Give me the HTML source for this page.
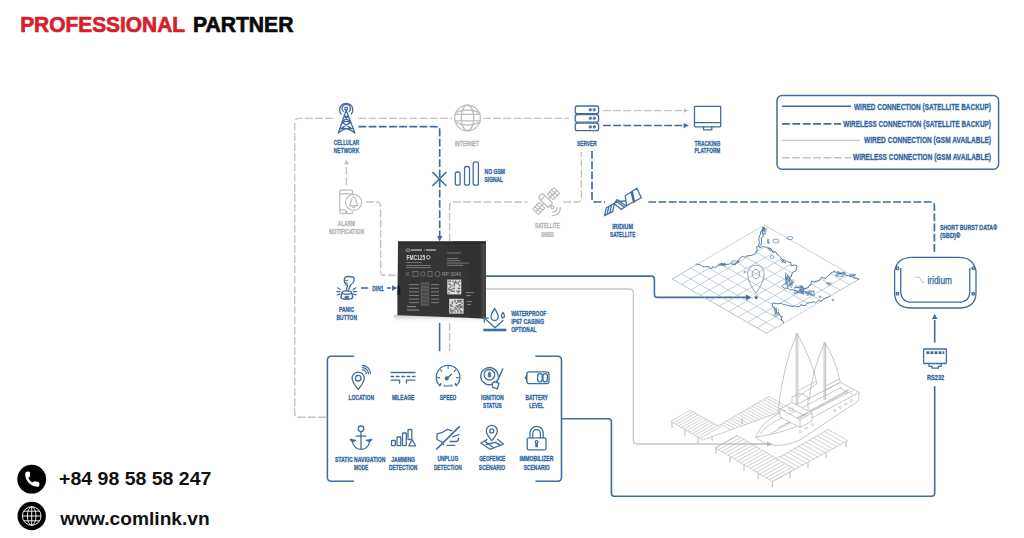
<!DOCTYPE html>
<html><head><meta charset="utf-8"><style>
html,body{margin:0;padding:0;background:#fff;}
body{width:1024px;height:538px;overflow:hidden;position:relative;}
svg{position:absolute;left:0;top:0;font-family:"Liberation Sans",sans-serif;}
</style></head><body>
<svg width="1024" height="538" viewBox="0 0 1024 538">
<text x="20.2" y="32.3" font-size="22.1" font-weight="bold" fill="#d7202c" stroke="#d7202c" stroke-width="0.7" textLength="164.8" lengthAdjust="spacingAndGlyphs">PROFESSIONAL</text>
<text x="192.9" y="32.3" font-size="22.1" font-weight="bold" fill="#0a0a0a" stroke="#0a0a0a" stroke-width="0.7" textLength="100.5" lengthAdjust="spacingAndGlyphs">PARTNER</text>
<circle cx="31.7" cy="479.2" r="14.4" fill="#000"/>
<path d="M25.2 473.2 Q25.6 471.6 27.6 471.6 L29.3 471.8 Q30.2 472 30.1 473.2 L29.9 476.2 Q29.8 477.2 28.8 477.6 L28.2 477.9 Q29.8 481.2 32.8 482.6 L33.4 481.8 Q34 481 35 481.2 L38.3 481.9 Q39.4 482.2 39.4 483.2 L39.4 485.2 Q39.3 486.8 37.6 486.8 Q30.6 486.6 26.8 480.2 Q25 477 25.2 473.2 Z" fill="#fff"/>
<circle cx="31.7" cy="516" r="14.2" fill="#000"/>
<g fill="none" stroke="#fff" stroke-width="0.9"><circle cx="31.7" cy="516" r="9.3"/><ellipse cx="31.7" cy="516" rx="4.3" ry="9.3"/><line x1="31.7" y1="506.7" x2="31.7" y2="525.3"/><line x1="22.4" y1="516" x2="41" y2="516"/><path d="M23.6 511.2 H39.8 M23.6 520.8 H39.8"/></g>
<text x="59.1" y="484.9" font-size="18" font-weight="bold" fill="#111" textLength="152.3" lengthAdjust="spacingAndGlyphs">+84 98 58 58 247</text>
<text x="60.3" y="524.7" font-size="19" font-weight="bold" fill="#111" textLength="149.4" lengthAdjust="spacingAndGlyphs">www.comlink.vn</text>
<path d="M333 118.4 H299 Q294.7 118.4 294.7 122.7 V413 Q294.7 417.3 299 417.3 H327" fill="none" stroke="#c3c3c3" stroke-width="1.4" stroke-dasharray="7.8 2.4"/>
<path d="M358.4 118.4 H452" fill="none" stroke="#c3c3c3" stroke-width="1.4" stroke-dasharray="7.8 2.4"/>
<path d="M483 118.4 H569" fill="none" stroke="#c3c3c3" stroke-width="1.4" stroke-dasharray="7.8 2.4"/>
<path d="M346.5 185 V164" fill="none" stroke="#c3c3c3" stroke-width="1.4" stroke-dasharray="7.8 2.4"/>
<path d="M344 164.2 L346.5 159.8 L349 164.2 Z" fill="#bcbcbc"/>
<path d="M366 202 H376.6 Q380.6 202 380.6 206 V271.3 Q380.6 275.3 384.6 275.3 H397" fill="none" stroke="#c3c3c3" stroke-width="1.4" stroke-dasharray="7.8 2.4"/>
<path d="M449.6 241 V206 Q449.6 202 453.6 202 H527.5" fill="none" stroke="#c3c3c3" stroke-width="1.4" stroke-dasharray="7.8 2.4"/>
<path d="M563.4 202 H577.4 Q581.4 202 581.4 198 V152" fill="none" stroke="#c3c3c3" stroke-width="1.4" stroke-dasharray="7.8 2.4"/>
<path d="M603 110.6 H684" fill="none" stroke="#c3c3c3" stroke-width="1.4" stroke-dasharray="7.8 2.4"/>
<path d="M683.8 108.4 L688.6 110.6 L683.8 112.8 Z" fill="#c3c3c3"/>
<path d="M603 125.5 H684" fill="none" stroke="#406d9d" stroke-width="1.7" stroke-dasharray="7.8 2.4"/>
<path d="M683.6 123 L688.8 125.6 L683.6 128.2 Z" fill="#406d9d"/>
<path d="M358.4 126.6 H435.7 Q439.7 126.6 439.7 130.6 V237" fill="none" stroke="#406d9d" stroke-width="1.7" stroke-dasharray="7.8 2.4"/>
<path d="M437 236 L439.7 241.5 L442.4 236 Z" fill="#406d9d"/>
<path d="M432.4 172 L446.4 186 M446.4 172 L432.4 186" stroke="#406d9d" stroke-width="1.6"/>
<path d="M592 151 V198 Q592 202 596 202 H605" fill="none" stroke="#406d9d" stroke-width="1.7" stroke-dasharray="7.8 2.4"/>
<path d="M648.3 202 H930.4 Q934.4 202 934.4 206 V252" fill="none" stroke="#406d9d" stroke-width="1.7" stroke-dasharray="7.8 2.4"/>
<path d="M485.5 276.1 H651.4 Q654.4 276.1 654.4 279.1 V294.4 Q654.4 297.4 657.4 297.4 H747" fill="none" stroke="#406d9d" stroke-width="1.6"/>
<path d="M746 294.6 L751.5 297.4 L746 300.2 Z" fill="#406d9d"/>
<circle cx="756.2" cy="297.6" r="1.5" fill="#406d9d"/>
<path d="M485.5 289 H629.3 Q633.3 289 633.3 293 V440 Q633.3 444 637.3 444 H766" fill="none" stroke="#c8c8c8" stroke-width="1.3"/>
<path d="M767 441.6 L772.3 444 L767 446.4 Z" fill="#b8b8b8"/>
<path d="M439.6 322.8 V351.3" fill="none" stroke="#406d9d" stroke-width="1.6"/>
<path d="M449.6 322.8 V351.3" fill="none" stroke="#c3c3c3" stroke-width="1.4" stroke-dasharray="7.8 2.4"/>
<path d="M361 288 H368.2" fill="none" stroke="#406d9d" stroke-width="1.6"/>
<path d="M387 288 H391" fill="none" stroke="#406d9d" stroke-width="1.6"/>
<path d="M392 285.3 L397.5 288 L392 290.7 Z" fill="#406d9d"/>
<path d="M354 356.2 H331.4 Q327.4 356.2 327.4 360.2 V477.3 Q327.4 481.3 331.4 481.3 H354" fill="none" stroke="#406d9d" stroke-width="1.6"/>
<path d="M535.3 356.2 H557.5 Q561.5 356.2 561.5 360.2 V477.3 Q561.5 481.3 557.5 481.3 H535.5" fill="none" stroke="#406d9d" stroke-width="1.6"/>
<path d="M561.5 418.8 H608.4 Q611.4 418.8 611.4 421.8 V493.2 Q611.4 496.2 614.4 496.2 H931.7 Q934.7 496.2 934.7 493.2 V386.3" fill="none" stroke="#406d9d" stroke-width="1.6"/>
<path d="M934.7 342.7 V320" fill="none" stroke="#406d9d" stroke-width="1.6"/>
<path d="M932 319 L934.7 313.8 L937.4 319 Z" fill="#406d9d"/>
<rect x="777" y="95.6" width="221.6" height="73.7" rx="5" fill="none" stroke="#406d9d" stroke-width="1.5"/>
<path d="M782 106.2 H851" fill="none" stroke="#406d9d" stroke-width="1.5"/>
<path d="M782 123.9 H841" fill="none" stroke="#406d9d" stroke-width="1.6" stroke-dasharray="7.8 2.6"/>
<path d="M782 140.3 H860" fill="none" stroke="#c8c8c8" stroke-width="1.3"/>
<path d="M782 157.8 H851" fill="none" stroke="#c3c3c3" stroke-width="1.4" stroke-dasharray="7.8 2.6"/>
<text x="854.0" y="109.5" font-size="9.16" font-weight="bold" fill="#3064a0" stroke="#3064a0" stroke-width="0.3" textLength="137.0" lengthAdjust="spacingAndGlyphs">WIRED CONNECTION (SATELLITE BACKUP)</text>
<text x="843.3" y="126.6" font-size="9.16" font-weight="bold" fill="#3064a0" stroke="#3064a0" stroke-width="0.3" textLength="147.7" lengthAdjust="spacingAndGlyphs">WIRELESS CONNECTION (SATELLITE BACKUP)</text>
<text x="864.0" y="143.3" font-size="9.16" font-weight="bold" fill="#3064a0" stroke="#3064a0" stroke-width="0.3" textLength="127.0" lengthAdjust="spacingAndGlyphs">WIRED CONNECTION (GSM AVAILABLE)</text>
<text x="853.0" y="160.1" font-size="9.16" font-weight="bold" fill="#3064a0" stroke="#3064a0" stroke-width="0.3" textLength="138.0" lengthAdjust="spacingAndGlyphs">WIRELESS CONNECTION (GSM AVAILABLE)</text>
<defs><linearGradient id="shad" x1="0" y1="0" x2="0" y2="1"><stop offset="0" stop-color="#c4c4c4"/><stop offset="1" stop-color="#fff" stop-opacity="0"/></linearGradient><linearGradient id="side" x1="0" y1="0" x2="1" y2="0"><stop offset="0" stop-color="#3a3a3a"/><stop offset="0.5" stop-color="#4a4a4a"/><stop offset="1" stop-color="#3c3c3c"/></linearGradient><filter id="soft" x="-5%" y="-5%" width="110%" height="110%"><feGaussianBlur stdDeviation="0.35"/></filter></defs>
<path d="M394 315 L486 318.2 V323 H394 Z" fill="url(#shad)"/>
<g filter="url(#soft)">
<path d="M398 241.4 H485.8 V318.4 L397.4 315.2 V295.2 L397.6 285 Z" fill="#363636"/>
<path d="M452 241.4 H480.8 V318.3 L470 318 V276 Z" fill="#313131"/>
<path d="M480.8 241.4 H485.8 V318.6 L480.8 318.4 Z" fill="url(#side)"/>
<path d="M398 241.4 H485.8 V243.2 H398 Z" fill="#2a2a2a"/>
<path d="M397.6 285.4 H400.4 V295 H397.4 Z" fill="#1e1e1e"/>
<g fill="#a8a8a8">
<rect x="406" y="249" width="4" height="2.4" rx="1" fill="none" stroke="#bdbdbd" stroke-width="0.7"/>
<rect x="411" y="249.3" width="11" height="1.5"/><rect x="424" y="249.3" width="0.6" height="1.5"/><rect x="426" y="249.3" width="10" height="1.5"/>
</g>
<text x="406.6" y="260" font-size="7.6" font-weight="bold" fill="#dcdcdc" textLength="18.5" lengthAdjust="spacingAndGlyphs">FMC125</text>
<circle cx="428.3" cy="257.3" r="1.8" fill="none" stroke="#cfcfcf" stroke-width="0.9"/>
<g fill="#7a7a7a">
<rect x="406" y="262" width="16" height="0.9"/>
<rect x="406" y="265" width="25" height="0.9"/>
<rect x="406" y="267.2" width="25" height="0.9"/>
<rect x="447" y="252.5" width="14" height="0.9"/>
<rect x="447" y="258" width="11" height="0.9"/>
<rect x="447" y="260.3" width="13" height="0.9"/>
<rect x="447" y="262.6" width="22" height="0.9"/>
<rect x="447" y="264.9" width="16" height="0.9"/>
</g>
<g fill="none" stroke="#808080" stroke-width="0.7"><path d="M406 272 L409 276 M409 272 L406 276"/><rect x="413" y="271.5" width="5" height="5"/><circle cx="423" cy="274" r="2.3"/><rect x="428" y="271.5" width="4" height="5"/><circle cx="437.5" cy="274" r="2.6"/></g>
<text x="442" y="276" font-size="5" fill="#9a9a9a">RP 3040</text>
<rect x="421" y="282.4" width="7.9" height="23.3" fill="#464646" stroke="#5e5e5e" stroke-width="0.5"/>
<g fill="#858585">
<rect x="409" y="284.2" width="10" height="0.9"/><rect x="431" y="284.2" width="8" height="0.9"/><rect x="421.8" y="283.6" width="6.3" height="2.6" fill="none" stroke="#6a6a6a" stroke-width="0.4"/>
<rect x="409" y="287.8" width="10" height="0.9"/><rect x="431" y="287.8" width="8" height="0.9"/><rect x="421.8" y="287.2" width="6.3" height="2.6" fill="none" stroke="#6a6a6a" stroke-width="0.4"/>
<rect x="409" y="291.4" width="10" height="0.9"/><rect x="431" y="291.4" width="8" height="0.9"/><rect x="421.8" y="290.8" width="6.3" height="2.6" fill="none" stroke="#6a6a6a" stroke-width="0.4"/>
<rect x="409" y="295.0" width="10" height="0.9"/><rect x="431" y="295.0" width="8" height="0.9"/><rect x="421.8" y="294.4" width="6.3" height="2.6" fill="none" stroke="#6a6a6a" stroke-width="0.4"/>
<rect x="409" y="298.6" width="10" height="0.9"/><rect x="431" y="298.6" width="8" height="0.9"/><rect x="421.8" y="298.0" width="6.3" height="2.6" fill="none" stroke="#6a6a6a" stroke-width="0.4"/>
<rect x="409" y="302.2" width="10" height="0.9"/><rect x="431" y="302.2" width="8" height="0.9"/><rect x="421.8" y="301.6" width="6.3" height="2.6" fill="none" stroke="#6a6a6a" stroke-width="0.4"/>
<rect x="407" y="306" width="9" height="1.1"/><rect x="407" y="309.5" width="12" height="1.1"/>
</g>
<rect x="447.3" y="279.6" width="14" height="14.8" fill="#dcdcdc"/>
<rect x="448.30" y="280.60" width="1.33" height="1.42" fill="#6a6a6a"/>
<rect x="448.30" y="283.44" width="1.33" height="1.42" fill="#6a6a6a"/>
<rect x="448.30" y="287.71" width="1.33" height="1.42" fill="#6a6a6a"/>
<rect x="448.30" y="289.13" width="1.33" height="1.42" fill="#6a6a6a"/>
<rect x="448.30" y="291.98" width="1.33" height="1.42" fill="#6a6a6a"/>
<rect x="449.63" y="280.60" width="1.33" height="1.42" fill="#6a6a6a"/>
<rect x="449.63" y="283.44" width="1.33" height="1.42" fill="#6a6a6a"/>
<rect x="449.63" y="286.29" width="1.33" height="1.42" fill="#6a6a6a"/>
<rect x="449.63" y="289.13" width="1.33" height="1.42" fill="#6a6a6a"/>
<rect x="450.97" y="284.87" width="1.33" height="1.42" fill="#6a6a6a"/>
<rect x="450.97" y="289.13" width="1.33" height="1.42" fill="#6a6a6a"/>
<rect x="450.97" y="290.56" width="1.33" height="1.42" fill="#6a6a6a"/>
<rect x="452.30" y="280.60" width="1.33" height="1.42" fill="#6a6a6a"/>
<rect x="452.30" y="287.71" width="1.33" height="1.42" fill="#6a6a6a"/>
<rect x="452.30" y="290.56" width="1.33" height="1.42" fill="#6a6a6a"/>
<rect x="453.63" y="282.02" width="1.33" height="1.42" fill="#6a6a6a"/>
<rect x="453.63" y="283.44" width="1.33" height="1.42" fill="#6a6a6a"/>
<rect x="453.63" y="284.87" width="1.33" height="1.42" fill="#6a6a6a"/>
<rect x="453.63" y="287.71" width="1.33" height="1.42" fill="#6a6a6a"/>
<rect x="453.63" y="290.56" width="1.33" height="1.42" fill="#6a6a6a"/>
<rect x="454.97" y="280.60" width="1.33" height="1.42" fill="#6a6a6a"/>
<rect x="454.97" y="282.02" width="1.33" height="1.42" fill="#6a6a6a"/>
<rect x="456.30" y="282.02" width="1.33" height="1.42" fill="#6a6a6a"/>
<rect x="456.30" y="290.56" width="1.33" height="1.42" fill="#6a6a6a"/>
<rect x="457.63" y="282.02" width="1.33" height="1.42" fill="#6a6a6a"/>
<rect x="457.63" y="283.44" width="1.33" height="1.42" fill="#6a6a6a"/>
<rect x="457.63" y="287.71" width="1.33" height="1.42" fill="#6a6a6a"/>
<rect x="457.63" y="290.56" width="1.33" height="1.42" fill="#6a6a6a"/>
<rect x="457.63" y="291.98" width="1.33" height="1.42" fill="#6a6a6a"/>
<rect x="458.97" y="280.60" width="1.33" height="1.42" fill="#6a6a6a"/>
<rect x="458.97" y="284.87" width="1.33" height="1.42" fill="#6a6a6a"/>
<rect x="458.97" y="287.71" width="1.33" height="1.42" fill="#6a6a6a"/>
<rect x="458.97" y="290.56" width="1.33" height="1.42" fill="#6a6a6a"/>
<rect x="449.2" y="298.8" width="14.4" height="14.8" fill="#dcdcdc"/>
<rect x="450.20" y="304.07" width="1.38" height="1.42" fill="#6a6a6a"/>
<rect x="450.20" y="305.49" width="1.38" height="1.42" fill="#6a6a6a"/>
<rect x="450.20" y="308.33" width="1.38" height="1.42" fill="#6a6a6a"/>
<rect x="450.20" y="309.76" width="1.38" height="1.42" fill="#6a6a6a"/>
<rect x="450.20" y="311.18" width="1.38" height="1.42" fill="#6a6a6a"/>
<rect x="451.58" y="301.22" width="1.38" height="1.42" fill="#6a6a6a"/>
<rect x="451.58" y="302.64" width="1.38" height="1.42" fill="#6a6a6a"/>
<rect x="451.58" y="305.49" width="1.38" height="1.42" fill="#6a6a6a"/>
<rect x="451.58" y="309.76" width="1.38" height="1.42" fill="#6a6a6a"/>
<rect x="451.58" y="311.18" width="1.38" height="1.42" fill="#6a6a6a"/>
<rect x="452.96" y="309.76" width="1.38" height="1.42" fill="#6a6a6a"/>
<rect x="454.33" y="299.80" width="1.38" height="1.42" fill="#6a6a6a"/>
<rect x="454.33" y="301.22" width="1.38" height="1.42" fill="#6a6a6a"/>
<rect x="454.33" y="306.91" width="1.38" height="1.42" fill="#6a6a6a"/>
<rect x="454.33" y="308.33" width="1.38" height="1.42" fill="#6a6a6a"/>
<rect x="454.33" y="311.18" width="1.38" height="1.42" fill="#6a6a6a"/>
<rect x="455.71" y="302.64" width="1.38" height="1.42" fill="#6a6a6a"/>
<rect x="455.71" y="305.49" width="1.38" height="1.42" fill="#6a6a6a"/>
<rect x="455.71" y="308.33" width="1.38" height="1.42" fill="#6a6a6a"/>
<rect x="457.09" y="299.80" width="1.38" height="1.42" fill="#6a6a6a"/>
<rect x="457.09" y="301.22" width="1.38" height="1.42" fill="#6a6a6a"/>
<rect x="457.09" y="305.49" width="1.38" height="1.42" fill="#6a6a6a"/>
<rect x="457.09" y="306.91" width="1.38" height="1.42" fill="#6a6a6a"/>
<rect x="457.09" y="309.76" width="1.38" height="1.42" fill="#6a6a6a"/>
<rect x="457.09" y="311.18" width="1.38" height="1.42" fill="#6a6a6a"/>
<rect x="458.47" y="299.80" width="1.38" height="1.42" fill="#6a6a6a"/>
<rect x="458.47" y="301.22" width="1.38" height="1.42" fill="#6a6a6a"/>
<rect x="458.47" y="304.07" width="1.38" height="1.42" fill="#6a6a6a"/>
<rect x="458.47" y="305.49" width="1.38" height="1.42" fill="#6a6a6a"/>
<rect x="458.47" y="308.33" width="1.38" height="1.42" fill="#6a6a6a"/>
<rect x="459.84" y="299.80" width="1.38" height="1.42" fill="#6a6a6a"/>
<rect x="459.84" y="301.22" width="1.38" height="1.42" fill="#6a6a6a"/>
<rect x="459.84" y="304.07" width="1.38" height="1.42" fill="#6a6a6a"/>
<rect x="459.84" y="305.49" width="1.38" height="1.42" fill="#6a6a6a"/>
<rect x="459.84" y="306.91" width="1.38" height="1.42" fill="#6a6a6a"/>
<rect x="459.84" y="309.76" width="1.38" height="1.42" fill="#6a6a6a"/>
<rect x="459.84" y="311.18" width="1.38" height="1.42" fill="#6a6a6a"/>
<rect x="461.22" y="299.80" width="1.38" height="1.42" fill="#6a6a6a"/>
<rect x="461.22" y="302.64" width="1.38" height="1.42" fill="#6a6a6a"/>
<rect x="461.22" y="305.49" width="1.38" height="1.42" fill="#6a6a6a"/>
<rect x="461.22" y="306.91" width="1.38" height="1.42" fill="#6a6a6a"/>
<rect x="461.22" y="311.18" width="1.38" height="1.42" fill="#6a6a6a"/>
<g fill="#777"><rect x="466" y="292" width="8" height="1.1"/><rect x="466" y="295" width="5" height="1.1"/><rect x="467" y="301" width="5" height="1.1"/><rect x="467" y="304" width="4" height="1.1"/></g>
</g>
<text x="333.8" y="145.2" font-size="7.70" font-weight="bold" fill="#3064a0" stroke="#3064a0" stroke-width="0.3" textLength="25.4" lengthAdjust="spacingAndGlyphs">CELLULAR</text>
<text x="333.8" y="153.2" font-size="7.70" font-weight="bold" fill="#3064a0" stroke="#3064a0" stroke-width="0.3" textLength="25.4" lengthAdjust="spacingAndGlyphs">NETWORK</text>
<text x="455.0" y="145.6" font-size="7.70" font-weight="bold" fill="#b4b4b4" stroke="#b4b4b4" stroke-width="0.3" textLength="24.0" lengthAdjust="spacingAndGlyphs">INTERNET</text>
<text x="577.0" y="145.6" font-size="7.70" font-weight="bold" fill="#3064a0" stroke="#3064a0" stroke-width="0.3" textLength="19.7" lengthAdjust="spacingAndGlyphs">SERVER</text>
<text x="694.4" y="145.6" font-size="7.70" font-weight="bold" fill="#3064a0" stroke="#3064a0" stroke-width="0.3" textLength="25.9" lengthAdjust="spacingAndGlyphs">TRACKING</text>
<text x="694.4" y="153.3" font-size="7.70" font-weight="bold" fill="#3064a0" stroke="#3064a0" stroke-width="0.3" textLength="25.9" lengthAdjust="spacingAndGlyphs">PLATFORM</text>
<text x="484.6" y="173.6" font-size="7.70" font-weight="bold" fill="#3064a0" stroke="#3064a0" stroke-width="0.3" textLength="20.4" lengthAdjust="spacingAndGlyphs">NO GSM</text>
<text x="484.6" y="181.7" font-size="7.70" font-weight="bold" fill="#3064a0" stroke="#3064a0" stroke-width="0.3" textLength="18.4" lengthAdjust="spacingAndGlyphs">SIGNAL</text>
<text x="338.0" y="226.1" font-size="7.70" font-weight="bold" fill="#b4b4b4" stroke="#b4b4b4" stroke-width="0.3" textLength="17.0" lengthAdjust="spacingAndGlyphs">ALARM</text>
<text x="329.0" y="233.9" font-size="7.70" font-weight="bold" fill="#b4b4b4" stroke="#b4b4b4" stroke-width="0.3" textLength="35.0" lengthAdjust="spacingAndGlyphs">NOTIFICATION</text>
<text x="535.0" y="228.2" font-size="7.70" font-weight="bold" fill="#b4b4b4" stroke="#b4b4b4" stroke-width="0.3" textLength="24.9" lengthAdjust="spacingAndGlyphs">SATELLITE</text>
<text x="540.9" y="236.5" font-size="7.70" font-weight="bold" fill="#b4b4b4" stroke="#b4b4b4" stroke-width="0.3" textLength="12.9" lengthAdjust="spacingAndGlyphs">GNSS</text>
<text x="612.3" y="228.7" font-size="7.70" font-weight="bold" fill="#3064a0" stroke="#3064a0" stroke-width="0.3" textLength="20.7" lengthAdjust="spacingAndGlyphs">IRIDIUM</text>
<text x="610.0" y="236.9" font-size="7.70" font-weight="bold" fill="#3064a0" stroke="#3064a0" stroke-width="0.3" textLength="25.3" lengthAdjust="spacingAndGlyphs">SATELLITE</text>
<text x="339.0" y="311.8" font-size="7.70" font-weight="bold" fill="#3064a0" stroke="#3064a0" stroke-width="0.3" textLength="15.0" lengthAdjust="spacingAndGlyphs">PANIC</text>
<text x="336.5" y="319.6" font-size="7.70" font-weight="bold" fill="#3064a0" stroke="#3064a0" stroke-width="0.3" textLength="20.5" lengthAdjust="spacingAndGlyphs">BUTTON</text>
<text x="372.3" y="290.6" font-size="7.70" font-weight="bold" fill="#3064a0" stroke="#3064a0" stroke-width="0.3" textLength="11.2" lengthAdjust="spacingAndGlyphs">DIN1</text>
<text x="511.2" y="316.1" font-size="7.70" font-weight="bold" fill="#3064a0" stroke="#3064a0" stroke-width="0.3" textLength="35.1" lengthAdjust="spacingAndGlyphs">WATERPROOF</text>
<text x="511.2" y="324.3" font-size="7.70" font-weight="bold" fill="#3064a0" stroke="#3064a0" stroke-width="0.3" textLength="32.8" lengthAdjust="spacingAndGlyphs">IP67 CASING</text>
<text x="511.2" y="332.3" font-size="7.70" font-weight="bold" fill="#3064a0" stroke="#3064a0" stroke-width="0.3" textLength="25.2" lengthAdjust="spacingAndGlyphs">OPTIONAL</text>
<text x="348.4" y="400.1" font-size="7.70" font-weight="bold" fill="#3064a0" stroke="#3064a0" stroke-width="0.3" textLength="25.6" lengthAdjust="spacingAndGlyphs">LOCATION</text>
<text x="391.9" y="400.1" font-size="7.70" font-weight="bold" fill="#3064a0" stroke="#3064a0" stroke-width="0.3" textLength="22.4" lengthAdjust="spacingAndGlyphs">MILEAGE</text>
<text x="439.8" y="400.3" font-size="7.70" font-weight="bold" fill="#3064a0" stroke="#3064a0" stroke-width="0.3" textLength="16.4" lengthAdjust="spacingAndGlyphs">SPEED</text>
<text x="481.0" y="400.3" font-size="7.70" font-weight="bold" fill="#3064a0" stroke="#3064a0" stroke-width="0.3" textLength="22.6" lengthAdjust="spacingAndGlyphs">IGNITION</text>
<text x="483.0" y="408.1" font-size="7.70" font-weight="bold" fill="#3064a0" stroke="#3064a0" stroke-width="0.3" textLength="18.8" lengthAdjust="spacingAndGlyphs">STATUS</text>
<text x="525.5" y="400.3" font-size="7.70" font-weight="bold" fill="#3064a0" stroke="#3064a0" stroke-width="0.3" textLength="22.3" lengthAdjust="spacingAndGlyphs">BATTERY</text>
<text x="529.3" y="408.1" font-size="7.70" font-weight="bold" fill="#3064a0" stroke="#3064a0" stroke-width="0.3" textLength="14.4" lengthAdjust="spacingAndGlyphs">LEVEL</text>
<text x="334.9" y="461.7" font-size="7.70" font-weight="bold" fill="#3064a0" stroke="#3064a0" stroke-width="0.3" textLength="50.5" lengthAdjust="spacingAndGlyphs">STATIC NAVIGATION</text>
<text x="353.9" y="469.5" font-size="7.70" font-weight="bold" fill="#3064a0" stroke="#3064a0" stroke-width="0.3" textLength="14.4" lengthAdjust="spacingAndGlyphs">MODE</text>
<text x="391.3" y="461.7" font-size="7.70" font-weight="bold" fill="#3064a0" stroke="#3064a0" stroke-width="0.3" textLength="23.7" lengthAdjust="spacingAndGlyphs">JAMMING</text>
<text x="389.0" y="469.5" font-size="7.70" font-weight="bold" fill="#3064a0" stroke="#3064a0" stroke-width="0.3" textLength="28.3" lengthAdjust="spacingAndGlyphs">DETECTION</text>
<text x="437.4" y="461.2" font-size="7.70" font-weight="bold" fill="#3064a0" stroke="#3064a0" stroke-width="0.3" textLength="20.9" lengthAdjust="spacingAndGlyphs">UNPLUG</text>
<text x="433.9" y="470.0" font-size="7.70" font-weight="bold" fill="#3064a0" stroke="#3064a0" stroke-width="0.3" textLength="27.7" lengthAdjust="spacingAndGlyphs">DETECTION</text>
<text x="479.2" y="461.2" font-size="7.70" font-weight="bold" fill="#3064a0" stroke="#3064a0" stroke-width="0.3" textLength="26.0" lengthAdjust="spacingAndGlyphs">GEOFENCE</text>
<text x="478.8" y="470.0" font-size="7.70" font-weight="bold" fill="#3064a0" stroke="#3064a0" stroke-width="0.3" textLength="26.4" lengthAdjust="spacingAndGlyphs">SCENARIO</text>
<text x="519.5" y="461.2" font-size="7.70" font-weight="bold" fill="#3064a0" stroke="#3064a0" stroke-width="0.3" textLength="33.9" lengthAdjust="spacingAndGlyphs">IMMOBILIZER</text>
<text x="523.8" y="470.0" font-size="7.70" font-weight="bold" fill="#3064a0" stroke="#3064a0" stroke-width="0.3" textLength="25.8" lengthAdjust="spacingAndGlyphs">SCENARIO</text>
<text x="940.0" y="230.1" font-size="7.70" font-weight="bold" fill="#3064a0" stroke="#3064a0" stroke-width="0.3" textLength="57.0" lengthAdjust="spacingAndGlyphs">SHORT BURST DATA®</text>
<text x="940.0" y="237.9" font-size="7.70" font-weight="bold" fill="#3064a0" stroke="#3064a0" stroke-width="0.3" textLength="20.3" lengthAdjust="spacingAndGlyphs">(SBD)®</text>
<text x="927.0" y="379.6" font-size="7.70" font-weight="bold" fill="#3064a0" stroke="#3064a0" stroke-width="0.3" textLength="17.2" lengthAdjust="spacingAndGlyphs">RS232</text>
<g fill="none" stroke="#406d9d" stroke-width="1.3" stroke-linejoin="round" stroke-linecap="round"><circle cx="346.2" cy="108.6" r="1.4"/><path d="M343.3 111.6 A4.2 4.2 0 1 1 349.1 111.6"/><path d="M341 114 A6.6 6.6 0 1 1 351.4 114"/><path d="M346.2 110.2 L338.3 133 M346.2 110.2 L354.9 133 M344.2 116.3 L350.6 122.4 L340.6 128.8 Q346.5 127 354.4 132.6 M348.4 116.3 L342 122.4 L352 128.8 Q346 127 338.7 132.6 M344.4 116.5 H348.3 M342.8 122.2 Q346.3 120.6 349.8 122.2"/></g>
<g fill="none" stroke="#bdbdbd" stroke-width="1.25" stroke-linejoin="round" stroke-linecap="round"><circle cx="467.5" cy="118" r="12.9"/><ellipse cx="467.5" cy="118" rx="6.3" ry="12.9"/><path d="M455.1 114.3 H479.9 M455 120.8 H480 M456.2 112.4 Q467.5 107.6 478.8 112.4 M456.2 122.6 Q467.5 127.8 478.8 122.6"/></g>
<rect x="575.2" y="106.0" width="23.4" height="7.6" rx="2.2" fill="none" stroke="#406d9d" stroke-width="1.3" stroke-linejoin="round" stroke-linecap="round"/>
<circle cx="590.3" cy="109.8" r="1.3" fill="#5d84ad" stroke="#406d9d" stroke-width="0.7"/><circle cx="594.3" cy="109.8" r="1.3" fill="#5d84ad" stroke="#406d9d" stroke-width="0.7"/>
<rect x="575.2" y="114.5" width="23.4" height="7.6" rx="2.2" fill="none" stroke="#406d9d" stroke-width="1.3" stroke-linejoin="round" stroke-linecap="round"/>
<circle cx="590.3" cy="118.3" r="1.3" fill="#5d84ad" stroke="#406d9d" stroke-width="0.7"/><circle cx="594.3" cy="118.3" r="1.3" fill="#5d84ad" stroke="#406d9d" stroke-width="0.7"/>
<rect x="575.2" y="123.1" width="23.4" height="7.6" rx="2.2" fill="none" stroke="#406d9d" stroke-width="1.3" stroke-linejoin="round" stroke-linecap="round"/>
<circle cx="590.3" cy="126.9" r="1.3" fill="#5d84ad" stroke="#406d9d" stroke-width="0.7"/><circle cx="594.3" cy="126.9" r="1.3" fill="#5d84ad" stroke="#406d9d" stroke-width="0.7"/>
<g fill="none" stroke="#406d9d" stroke-width="1.3" stroke-linejoin="round" stroke-linecap="round"><rect x="694.5" y="106.3" width="26.2" height="20.6" rx="0.8"/><path d="M694.5 122.6 H720.7"/><path d="M703.5 127 V129.8 H711.8 V127"/></g>
<g fill="none" stroke="#406d9d" stroke-width="1.3" stroke-linejoin="round" stroke-linecap="round"><rect x="455.3" y="172" width="4.8" height="13.2" rx="2"/><rect x="464.5" y="166.5" width="5" height="18.7" rx="2"/><rect x="473.2" y="161.8" width="5.2" height="23.4" rx="2"/></g>
<g fill="none" stroke="#bdbdbd" stroke-width="1.2" stroke-linejoin="round" stroke-linecap="round"><path d="M339.8 191.8 Q339.8 190.2 341.4 190.2 H351 Q352.6 190.2 352.6 191.8 V194 M339.8 191.8 V212 Q339.8 213.6 341.4 213.6 H351 Q352.6 213.6 352.6 212"/><path d="M339.8 193.8 H352.6 M339.8 209.8 H345.6"/><circle cx="346.2" cy="211.7" r="0.9"/><circle cx="353.6" cy="202.4" r="8" fill="#fff"/><path d="M353.6 197 Q352.3 197 351.6 199.5 L349.6 205.6 H357.6 L355.6 199.5 Q354.9 197 353.6 197 Z M352.2 206.8 Q353.6 208.4 355 206.8 M353.6 196 V197"/></g>
<g transform="translate(546.1,201.1) rotate(-45)" fill="none" stroke="#bdbdbd" stroke-width="1.2" stroke-linejoin="round" stroke-linecap="round"><rect x="-15" y="-4" width="9.2" height="8" rx="0.6"/><path d="M-11.9 -4 V4 M-8.9 -4 V4 M-15 0 H-5.8"/><rect x="5.8" y="-4" width="9.2" height="8" rx="0.6"/><path d="M8.9 -4 V4 M11.9 -4 V4 M5.8 0 H15"/><path d="M-3.1 5.9 V-5.4 Q-3.1 -8.4 0 -8.4 Q3.1 -8.4 3.1 -5.4 V5.9 Z M-3.1 -4.5 H3.1 M-5.8 0 H-3.1 M3.1 0 H5.8 M0 5.9 V7.3"/><circle cx="0" cy="8.8" r="1.5"/><path d="M-3.2 12.2 A4.2 4.2 0 0 0 3.2 12.2 M-5.6 14.4 A7 7 0 0 0 5.6 14.4"/></g>
<g fill="none" stroke="#406d9d" stroke-width="1.3" stroke-linejoin="round" stroke-linecap="round"><path d="M604.5 215.7 L606.4 207.8 L614.4 203.2 L612.7 211.7 Z M608.9 206.4 L607.1 214.4 M611.5 205 L609.8 213"/><path d="M614.3 203.6 L617 199.6 L626.2 206 L621.3 209.6 Z M616 201.2 L624.5 207.3"/><path d="M618.5 201.5 L625.3 200.8"/><path d="M625.2 195.7 L636.9 188.2 L641.3 197.8 L626.6 205.7 Z M631.2 192 L633.5 202.4 M632.3 191.3 L634.6 201.8"/></g>
<g fill="none" stroke="#406d9d" stroke-width="1.3" stroke-linejoin="round" stroke-linecap="round"><path d="M337.6 287.8 L340.2 289.6 M336.8 291.6 H340 M337.2 294.8 L340 294.2 M355.8 287.8 L353.2 289.6 M356.6 291.6 H353.4 M356.2 294.8 L353.4 294.2" stroke-width="1.2"/><path d="M342.2 292.6 L341 296.8 Q341 299.4 346.9 299.4 Q352.8 299.4 352.8 296.8 L351.6 292.6" stroke-width="1.4"/><ellipse cx="346.9" cy="292.6" rx="4.7" ry="1.7" stroke-width="1.3"/><path d="M345.2 296.2 H348.6 V298.6 H345.2 Z" fill="#406d9d" stroke-width="0.6"/><path d="M346.3 290.2 L347.6 285.4 Q345 284.8 344.5 282.2 L344.3 279.6 Q344.5 276.6 348 276.4 L352.4 277 Q354.6 277.6 354.2 280.2 Q353.6 283.2 350.4 285.2 L348.4 290.2" stroke-width="1.3"/><path d="M344.8 280 L347.8 280.8 M345 282.6 L347.6 283.2" stroke-width="1"/></g>
<g fill="none" stroke="#406d9d" stroke-width="1.3" stroke-linejoin="round" stroke-linecap="round"><path d="M483.2 330 H506.4" stroke-width="2.6" stroke-linecap="butt"/><path d="M484 317.8 L495 327.8 L503 320.4"/><path d="M484 317.8 L488.2 318.2 M484 317.8 L484.4 322"/><path d="M494.6 308.4 Q490.8 314.4 491 317 Q491.4 320.5 494.6 320.5 Q497.8 320.5 498.2 317 Q498.4 314.4 494.6 308.4 Z"/><path d="M503 312.4 Q501.3 315 501.5 316.2 Q501.7 317.8 503 317.8 Q504.3 317.8 504.5 316.2 Q504.7 315 503 312.4 Z"/></g>
<g fill="none" stroke="#406d9d" stroke-width="1.3" stroke-linejoin="round" stroke-linecap="round"><path d="M358.2 389.3 Q352.1 382 352.1 378.2 A6.1 6.1 0 0 1 364.3 378.2 Q364.3 382 358.2 389.3 Z"/><circle cx="358.2" cy="378.2" r="2.8"/><path d="M362.4 369.8 A3.8 3.8 0 0 1 366.2 373.6 M362.4 367.6 A6 6 0 0 1 368.4 373.6 M362.4 365.5 A8.1 8.1 0 0 1 370.5 373.6"/></g>
<g fill="none" stroke="#406d9d" stroke-width="1.3" stroke-linejoin="round" stroke-linecap="round"><path d="M391.2 372.5 H415 M391.2 376.5 H393.6 M396.4 376.5 H399 M401.8 376.5 H404.4 M407.2 376.5 H409.8 M412.6 376.5 H415 M391.2 380.1 H399.6 V383 M415 380.1 H406.4 V383"/></g>
<g fill="none" stroke="#406d9d" stroke-width="1.3" stroke-linejoin="round" stroke-linecap="round"><path d="M439.8 385.6 A11.8 11.8 0 1 1 456.4 385.6"/><path d="M439.8 385.6 L440.8 383.8 M456.4 385.6 L455.4 383.8" stroke-width="1.6"/><path d="M448.1 366.6 V368.6 M440.5 369.9 L441.9 371.3 M455.7 369.9 L454.3 371.3 M437.6 377.6 H439.6 M458.6 377.6 H456.6" stroke-width="1.1"/><path d="M446.8 378.2 L451.6 374.2" stroke-width="1.4"/><circle cx="446.8" cy="378.4" r="1.4" fill="#406d9d"/></g><text x="443.4" y="387.3" font-size="3.6" font-weight="bold" fill="#406d9d" textLength="9.4" lengthAdjust="spacingAndGlyphs">km/h</text>
<g fill="none" stroke="#406d9d" stroke-width="1.3" stroke-linejoin="round" stroke-linecap="round"><path d="M496.5 381 A8.6 8.6 0 1 1 498 376"/><circle cx="489.4" cy="374.8" r="5.3"/><rect x="488.2" y="372.3" width="2.4" height="5" rx="1.1" fill="#406d9d" stroke-width="0.6"/><path d="M502.8 369 L496.6 382.4" stroke-width="1.5"/><path d="M494.6 381.6 L499 383.4 L497.4 388.8 L492.8 387.4 L492 383.4 Z" fill="#fff"/></g>
<g fill="none" stroke="#406d9d" stroke-width="1.3" stroke-linejoin="round" stroke-linecap="round"><rect x="526.8" y="371.8" width="22.2" height="11.8" rx="2.4"/><path d="M526.8 375.6 L525.3 377.7 L526.8 379.8"/><rect x="537.6" y="373.6" width="4.6" height="8.2" rx="2.3"/><rect x="543" y="373.6" width="4.4" height="8.2" rx="2.2"/></g>
<g fill="none" stroke="#406d9d" stroke-width="1.3" stroke-linejoin="round" stroke-linecap="round"><circle cx="361" cy="428.8" r="2.8"/><path d="M361 431.6 V449.4 M356.2 436.2 H365.8 M352.2 441.6 Q354.5 449.4 361 449.4 Q367.5 449.4 369.8 441.6 M350.3 439.5 L352.2 441.6 L355.6 440.3 Z M371.7 439.5 L369.8 441.6 L366.4 440.3 Z"/></g>
<g fill="none" stroke="#406d9d" stroke-width="1.3" stroke-linejoin="round" stroke-linecap="round"><rect x="391.5" y="440.5" width="3.8" height="5.2" rx="0.6"/><rect x="397" y="437" width="3.8" height="8.7" rx="0.6"/><rect x="402.5" y="433" width="3.8" height="12.7" rx="0.6"/><rect x="408" y="429.5" width="3.8" height="10" rx="0.6"/><path d="M408.8 445.8 L412.2 439.8 L415.6 445.8 Z"/></g>
<g fill="none" stroke="#406d9d" stroke-width="1.3" stroke-linejoin="round" stroke-linecap="round"><path d="M436.8 449 L459.3 426.6" stroke-width="1.7"/><path d="M437 439.5 V433.8 L442.5 432.3 L447.5 429.3 L452 430.8 M437 439.5 L441.2 441.5 L443.5 444.5 M452.6 436.8 L459 434.5 M450 441.5 H455.6 Q458.5 441.5 458.5 438.5 M447 445.3 H455"/></g>
<g fill="none" stroke="#406d9d" stroke-width="1.3" stroke-linejoin="round" stroke-linecap="round"><path d="M491.8 440.6 Q486.3 434.2 486.3 430.9 A5.5 5.5 0 0 1 497.3 430.9 Q497.3 434.2 491.8 440.6 Z"/><circle cx="491.8" cy="430.9" r="2"/><path d="M487 439.6 L480.8 443 L490 449.3 L503.5 444 L497.5 439.3 M485 441.6 L493.2 447.6 M486.5 444.5 L495 442.4 L500.6 445.2"/></g>
<g fill="none" stroke="#406d9d" stroke-width="1.3" stroke-linejoin="round" stroke-linecap="round"><path d="M530 437.8 V433 A6.6 6.6 0 0 1 543.2 433 V437.8 M532.8 437.8 V433.4 A3.8 3.8 0 0 1 540.4 433.4 V437.8"/><rect x="527.2" y="437.8" width="18.8" height="12" rx="1.6"/><path d="M535.2 442 Q535.2 440.6 536.6 440.6 Q538 440.6 538 442 L537.3 443.2 V446.5 H535.9 V443.2 Z"/></g>
<g fill="none" stroke="#406d9d" stroke-width="1.3"><path d="M894.6 271 Q897 257.3 912 257.3 H958.5 Q973.5 257.3 976 271 V292.5 Q976 308 958.5 308 H912 Q894.6 308 894.6 292.5 Z"/><path d="M900.7 268 V291 Q900.7 302.2 912 302.2 H958.5 Q969.8 302.2 969.8 291 V268"/><circle cx="897.5" cy="268.2" r="1.3"/><circle cx="897.5" cy="293.8" r="1.3"/><circle cx="973.2" cy="268.2" r="1.3"/><circle cx="973.2" cy="293.8" r="1.3"/></g>
<text x="927.4" y="284.2" font-size="10" fill="#3064a0" stroke="#3064a0" stroke-width="0.25" textLength="24.6" lengthAdjust="spacingAndGlyphs">iridium</text>
<path d="M915.5 277.2 Q918.5 276.8 920 278 Q921.8 279.8 921.4 281.2 Q922.8 283.2 924.6 282" fill="none" stroke="#9fb3c8" stroke-width="0.9"/>
<g fill="none" stroke="#406d9d" stroke-width="1.3" stroke-linejoin="round" stroke-linecap="round"><rect x="923.6" y="349" width="22.8" height="14.5" rx="0.8"/><path d="M929 363.5 V366.3 H932 V368.2 H938.4 V366.3 H941.2 V363.5"/></g>
<g fill="#406d9d"><rect x="926.3" y="351.3" width="3" height="2.8"/><rect x="930.4" y="351.3" width="3" height="2.8"/><rect x="934.5" y="351.3" width="3" height="2.8"/><rect x="938.6" y="351.3" width="3" height="2.8"/><rect x="942.7" y="351.3" width="1.6" height="2.8"/></g>
<clipPath id="ocean"><path d="M672.0 279.0 L696.0 265.0 L712.0 268.0 L722.0 264.0 L735.0 265.0 L740.0 258.0 L755.0 254.0 L758.0 245.0 L762.0 232.0 L763.5 227.0 L763.0 233.0 L759.0 247.0 L772.0 249.0 L783.0 260.0 L797.0 267.0 L790.0 278.0 L783.0 287.0 L795.0 291.0 L808.0 287.0 L812.0 282.0 L824.0 278.0 L835.0 271.0 L844.0 273.5 L855.0 278.0 L858.8 279.3 L830.0 296.0 L815.0 302.0 L803.0 305.0 L790.0 306.0 L772.0 303.0 L781.0 316.0 L783.5 323.3 L766.4 333.3 Z"/></clipPath>
<path clip-path="url(#ocean)" d="M672.0 279.0 L766.4 333.3 M672.0 279.0 L764.4 225.0 M681.2 273.6 L775.6 327.9 M681.4 284.4 L773.8 230.4 M690.5 268.2 L784.9 322.5 M690.9 289.9 L783.3 235.9 M699.7 262.8 L794.1 317.1 M700.3 295.3 L792.7 241.3 M709.0 257.4 L803.4 311.7 M709.8 300.7 L802.2 246.7 M718.2 252.0 L812.6 306.3 M719.2 306.1 L811.6 252.2 M727.4 246.6 L821.8 300.9 M728.6 311.6 L821.0 257.6 M736.7 241.2 L831.1 295.5 M738.1 317.0 L830.5 263.0 M745.9 235.8 L840.3 290.1 M747.5 322.4 L839.9 268.4 M755.2 230.4 L849.6 284.7 M757.0 327.9 L849.4 273.9 M764.4 225.0 L858.8 279.3 M766.4 333.3 L858.8 279.3" fill="none" stroke="#9fb0c4" stroke-width="0.6"/>
<path d="M672 279 L764.4 225 L858.8 279.3 L766.4 333.3 Z" fill="none" stroke="#a3b3c6" stroke-width="0.6"/>
<path d="M695.5 264.1 L699.1 264.4 L701.4 265.7 L702.9 266.5 L705.5 266.8 L708.2 266.4 L711.8 268.8 L712.7 266.6 L715.7 267.8 L717.2 265.7 L719.9 264.2 L721.3 264.1 L721.1 263.0 L723.7 265.0 L725.5 264.5 L728.9 264.2 L730.8 263.5 L731.7 264.1 L735.5 264.8 L735.4 264.1 L736.5 262.1 L738.3 262.0 L737.7 260.5 L739.2 260.1 L740.6 257.4 L743.7 256.3 L744.8 257.3 L746.6 256.0 L748.8 255.8 L753.2 254.9 L756.0 253.5 L756.0 252.7 L756.2 250.9 L757.4 250.7 L756.9 248.4 L756.4 247.0 L758.4 246.3 L759.5 242.3 L759.0 241.1 L758.8 238.4 L759.8 235.3 L760.2 234.9 L761.0 231.3 L762.0 232.1 L761.4 230.2 L762.9 230.5 L763.8 229.6 L762.7 227.6 L763.1 228.0 L764.6 227.1 L762.5 228.3 L762.6 230.0 L763.4 230.4 L761.8 231.8 L762.7 233.2 L763.5 235.8 L761.7 238.0 L761.5 238.8 L761.4 243.1 L760.6 245.4 L758.7 246.7 L760.1 247.7 L762.2 246.5 L764.7 247.1 L767.3 247.2 L768.5 247.8 L771.0 248.6 L772.6 251.8 L776.0 251.8 L776.9 254.1 L779.0 255.4 L782.1 259.4 L782.9 260.0 L784.3 260.1 L787.3 261.7 L790.9 262.6 L791.1 265.8 L794.7 264.9 L797.1 265.8 L795.9 270.1 L795.6 271.2 L792.9 272.2 L791.5 275.0 L791.3 276.9 L789.6 277.3 L789.6 280.8 L788.6 281.8 L787.3 283.1 L784.6 284.0 L783.8 284.3 L781.8 286.4 L784.4 288.2 L788.2 288.2 L790.1 290.3 L792.2 289.3 L792.3 289.6 L794.2 290.2 L797.5 291.4 L800.2 289.6 L801.9 289.8 L802.6 288.8 L806.9 288.4 L808.7 286.9 L807.8 286.9 L808.9 286.1 L811.2 284.2 L810.4 284.8 L811.9 282.0 L811.0 281.1 L815.1 282.1 L815.1 281.5 L819.2 280.4 L819.6 279.5 L821.0 277.4 L825.2 278.4 L825.9 278.0 L827.5 276.6 L830.3 273.7 L830.7 272.8 L832.5 272.4 L834.4 270.8 L835.5 272.5 L837.6 271.7 L839.7 273.3 L840.8 273.8 L842.5 273.2 L844.1 272.2 L845.7 273.4 L846.4 275.8 L848.6 275.7 L851.9 276.6 L852.7 277.3 L855.1 278.7 L854.6 278.4 L855.6 277.9 L857.6 278.7 L857.7 279.5 L859.2 278.9 L858.8 279.3" fill="none" stroke="#406d9d" stroke-width="0.85"/>
<path d="M830.3 296.0 L827.5 297.5 L824.9 298.1 L822.4 300.1 L820.5 301.0 L818.6 300.4 L815.2 303.2 L813.9 301.6 L810.0 302.8 L807.9 302.8 L805.9 304.4 L805.7 305.5 L802.1 305.6 L801.3 304.2 L799.7 306.5 L795.8 306.7 L794.1 305.6 L793.4 306.7 L789.1 305.8 L787.0 305.1 L783.2 304.5 L781.6 303.3 L778.1 303.8 L773.7 303.1 L772.3 303.0 L772.4 306.4 L775.7 308.6 L775.5 308.9 L776.8 312.4 L778.9 312.9 L780.8 317.1 L782.2 316.6 L780.9 319.5 L782.4 320.2 L781.6 319.7 L783.6 321.9 L783.5 323.3" fill="none" stroke="#406d9d" stroke-width="0.85"/>
<path d="M762.4 234.5 L765.8 233.4 L762.5 233.8 L762.4 233.9 L764.7 229.7 L765.3 234.4 L763.6 228.0 L765.2 228.9 L762.7 228.3 L762.3 228.6 L763.9 229.4 L766.6 229.3 L765.0 228.4 L764.1 227.1 L763.5 227.1 L766.4 231.4 L763.1 230.8 L767.6 227.9" fill="none" stroke="#406d9d" stroke-width="0.55" opacity="0.75"/>
<path d="M793.2 278.9 L790.0 285.4 L788.9 280.1 L791.9 287.7 L788.4 285.3 L792.1 282.2 L789.0 277.6 L785.5 274.1 L785.7 283.9 L787.6 274.6 L785.8 285.5 L793.7 282.7 L787.8 275.9 L787.9 279.4 L786.6 279.1 L787.6 287.4 L794.7 280.8 L787.4 287.5 L788.1 277.7 L785.0 278.1 L789.7 280.0 L787.0 280.1 L785.0 276.2 L785.9 278.4 L785.4 272.4 L788.0 275.7 L790.9 280.5 L792.5 282.5 L792.2 286.1 L788.9 277.2" fill="none" stroke="#406d9d" stroke-width="0.55" opacity="0.75"/>
<path d="M806.8 286.5 L803.1 291.4 L793.6 293.4 L805.5 291.3 L803.3 293.1 L795.0 290.2 L800.1 293.3 L804.3 293.3 L801.2 293.9 L802.6 291.9 L796.2 285.3 L794.9 288.6 L794.5 293.4 L800.8 291.3 L801.8 291.8 L799.9 285.0 L804.2 292.5 L800.0 290.4 L802.2 285.7 L803.3 287.5 L794.0 287.7 L803.2 287.1 L803.4 294.8 L799.9 288.8 L799.7 291.8 L803.7 291.2 L802.0 285.8 L795.1 287.5 L803.4 288.0 L800.9 285.1" fill="none" stroke="#406d9d" stroke-width="0.55" opacity="0.75"/>
<path d="M805.6 291.6 L811.7 294.2 L811.8 291.7 L810.2 292.8 L809.7 290.7 L813.9 291.2 L814.8 295.6 L805.2 292.8 L813.2 295.8 L809.5 291.6 L807.1 295.7 L807.1 293.5 L806.4 293.1 L814.5 290.8 L813.2 293.1 L813.9 294.2 L807.3 295.4 L809.9 290.1 L805.0 293.0 L809.5 291.8" fill="none" stroke="#406d9d" stroke-width="0.55" opacity="0.75"/>
<path d="M836.4 273.1 L838.2 276.0 L835.0 275.5 L843.4 271.7 L844.3 275.3 L844.0 272.7 L838.7 273.4 L845.0 274.5 L838.6 273.6 L837.8 271.3 L836.0 276.0 L837.9 276.6 L837.5 272.6 L840.1 272.1 L838.7 276.7 L843.8 275.9 L841.3 276.5 L844.4 274.3" fill="none" stroke="#406d9d" stroke-width="0.55" opacity="0.75"/>
<path d="M853.8 274.2 L853.9 275.8 L854.0 276.6 L850.3 274.2 L855.4 274.5 L851.8 275.4 L850.4 277.0 L855.8 275.0 L853.2 275.2 L852.5 275.6 L849.3 274.6 L849.7 277.6" fill="none" stroke="#406d9d" stroke-width="0.55" opacity="0.75"/>
<path d="M770.0 248.9 L773.3 252.0 L769.6 248.6 L767.5 248.4 L768.7 248.4 L767.9 249.0 L770.6 251.5 L772.0 249.7 L769.3 250.1 L769.0 249.4" fill="none" stroke="#406d9d" stroke-width="0.55" opacity="0.75"/>
<path d="M718.5 264.1 L725.7 263.5 L722.0 265.5 L724.9 263.9 L720.2 264.0 L721.2 264.8 L725.6 266.4 L725.0 263.1 L718.3 265.8 L725.2 264.9" fill="none" stroke="#406d9d" stroke-width="0.55" opacity="0.75"/>
<path d="M776.5 307.0 L775.3 316.3 L778.0 315.6 L778.8 309.5 L773.7 308.5 L776.1 313.8 L778.6 314.2 L776.9 314.6 L775.7 312.5 L773.2 314.8 L774.4 316.2 L776.9 310.0 L773.8 309.5 L776.8 314.0" fill="none" stroke="#406d9d" stroke-width="0.55" opacity="0.75"/>
<path d="M780.7 259.4 L783.1 262.5 L782.3 260.3 L783.6 259.1 L781.8 261.8 L785.8 262.9 L785.3 261.9 L781.4 260.5 L785.8 263.2 L781.8 259.1" fill="none" stroke="#406d9d" stroke-width="0.55" opacity="0.75"/>
<path d="M828.0 284.7 L827.4 283.0 L829.3 285.7 L825.8 282.1 L826.7 283.7 L829.5 282.8 L830.4 285.0 L828.0 282.8 L831.8 283.2 L830.6 282.9" fill="none" stroke="#406d9d" stroke-width="0.55" opacity="0.75"/>
<path d="M767.9 242.6 L768.2 243.7 L769.0 239.1 L767.9 240.5 L769.7 243.7 L767.6 240.4 L767.9 243.8 L767.6 238.3" fill="none" stroke="#406d9d" stroke-width="0.55" opacity="0.75"/>
<ellipse cx="776" cy="241" rx="3" ry="2" fill="none" stroke="#406d9d" stroke-width="0.6"/>
<ellipse cx="772" cy="257" rx="2" ry="1.5" fill="none" stroke="#406d9d" stroke-width="0.6"/>
<ellipse cx="790" cy="238" rx="3" ry="1.5" fill="none" stroke="#406d9d" stroke-width="0.6"/>
<ellipse cx="735" cy="262" rx="4" ry="1.2" fill="none" stroke="#406d9d" stroke-width="0.6"/>
<ellipse cx="745" cy="272" rx="1" ry="1" fill="none" stroke="#406d9d" stroke-width="0.6"/>
<ellipse cx="820" cy="297" rx="1" ry="1" fill="none" stroke="#406d9d" stroke-width="0.6"/>
<ellipse cx="833" cy="300" rx="1" ry="1" fill="none" stroke="#406d9d" stroke-width="0.6"/>
<g fill="none" stroke="#8a9bb0" stroke-width="0.9"><path d="M755.9 293.4 Q747.6 281.5 747.6 273.5 A8.3 8.3 0 0 1 764.2 273.5 Q764.2 281.5 755.9 293.4 Z"/><ellipse cx="755.9" cy="274" rx="3.8" ry="4.6"/></g>
<clipPath id="udock"><path d="M670.9 421.4 L690.0 410.3 L718.1 425.8 L768.9 396.3 L790.0 408.5 L702.8 440.0 Z"/></clipPath>
<path d="M670.9 421.4 L690.0 410.3 L718.1 425.8 L768.9 396.3 L790.0 408.5 L702.8 440.0 Z" fill="none" stroke="#b2b2b2" stroke-width="0.6"/>
<path clip-path="url(#udock)" d="M673.6 422.9 l22 -12.8 M676.2 424.5 l22 -12.8 M678.9 426.0 l22 -12.8 M681.5 427.6 l22 -12.8 M684.2 429.1 l22 -12.8 M686.9 430.7 l22 -12.8 M689.5 432.2 l22 -12.8 M692.2 433.8 l22 -12.8 M694.8 435.3 l22 -12.8 M697.5 436.9 l22 -12.8 M700.1 438.4 l22 -12.8 M720.9 424.2 l24 13.2 M723.7 422.5 l24 13.2 M726.6 420.9 l24 13.2 M729.4 419.2 l24 13.2 M732.2 417.6 l24 13.2 M735.0 416.0 l24 13.2 M737.9 414.3 l24 13.2 M740.7 412.7 l24 13.2 M743.5 411.1 l24 13.2 M746.3 409.4 l24 13.2 M749.1 407.8 l24 13.2 M752.0 406.1 l24 13.2 M754.8 404.5 l24 13.2 M757.6 402.9 l24 13.2 M760.4 401.2 l24 13.2 M763.3 399.6 l24 13.2 M766.1 397.9 l24 13.2" fill="none" stroke="#b2b2b2" stroke-width="0.6"/>
<path d="M672 422 v6 M685 429.6 v6 M698 437.2 v6 M712 435.8 v5 M742 418.6 v5" fill="none" stroke="#b2b2b2" stroke-width="0.9"/>
<path d="M715.3 447.8 L737.5 435.6 L776.8 458.8 L828.0 429.5 L847.8 440.5 L772.4 481.5 Z" fill="none" stroke="#b2b2b2" stroke-width="0.6"/>
<path d="M715.3 447.8 l22.2 -12.2 M718.5 449.7 l22.2 -12.2 M721.6 451.5 l22.2 -12.2 M724.8 453.4 l22.2 -12.2 M728.0 455.3 l22.2 -12.2 M731.2 457.2 l22.2 -12.2 M734.3 459.0 l22.2 -12.2 M737.5 460.9 l22.2 -12.2 M740.7 462.8 l22.2 -12.2 M743.8 464.7 l22.2 -12.2 M747.0 466.5 l22.2 -12.2 M750.2 468.4 l22.2 -12.2 M753.4 470.3 l22.2 -12.2 M756.5 472.1 l22.2 -12.2 M759.7 474.0 l22.2 -12.2 M762.9 475.9 l22.2 -12.2 M766.1 477.8 l22.2 -12.2 M769.2 479.6 l22.2 -12.2 M772.4 481.5 l22.2 -12.2" fill="none" stroke="#b2b2b2" stroke-width="0.6"/>
<path d="M795.0 469.2 l-19.8 -11 M798.8 467.1 l-19.8 -11 M802.6 465.1 l-19.8 -11 M806.3 463.1 l-19.8 -11 M810.1 461.0 l-19.8 -11 M813.9 458.9 l-19.8 -11 M817.6 456.9 l-19.8 -11 M821.4 454.9 l-19.8 -11 M825.2 452.8 l-19.8 -11 M828.9 450.8 l-19.8 -11 M832.7 448.7 l-19.8 -11 M836.5 446.6 l-19.8 -11 M840.3 444.6 l-19.8 -11 M844.0 442.6 l-19.8 -11" fill="none" stroke="#b2b2b2" stroke-width="0.6"/>
<path d="M716 448 v6 M730 456.5 v6 M744 465 v6 M758 473.3 v6 M772.4 481.5 v6 M790 472 v6 M808 462 v6 M826 452 v6 M846 441 v6" fill="none" stroke="#b2b2b2" stroke-width="0.9"/>
<path d="M755.6 437 Q763 421 778 414 L840.3 382.4 L859.2 392.4 L858.2 401 L800 440 Q772 452 755.6 437 Z" fill="#fff" stroke="#b0b0b0" stroke-width="0.7" stroke-linejoin="round"/>
<path d="M755.6 437 Q778 434 795 427 L859.2 392.4 M760 434 Q768 424 782 418 L842 387 M770 434 L846 392 M778 428 L850 389 M786 424 L853 390.5" fill="none" stroke="#b0b0b0" stroke-width="0.7" stroke-linejoin="round"/>
<path d="M834.7 409.5 a1.1 1.1 0 1 0 0.1 0 M840.3 406.2 a1.1 1.1 0 1 0 0.1 0 M845.8 403 a1.1 1.1 0 1 0 0.1 0 M851.5 399.6 a1.1 1.1 0 1 0 0.1 0" fill="none" stroke="#b0b0b0" stroke-width="0.7" stroke-linejoin="round"/>
<path d="M840 388 L848 392 L845 394 M850 393 l3 1.6" fill="none" stroke="#b0b0b0" stroke-width="0.7" stroke-linejoin="round"/>
<g transform="translate(0,-3)"><path d="M780 412 L792 405.5 L812 416 V424 L800 430.5 L780 420 Z M780 412 L800 422.5 L812 416 M800 422.5 V430.5 M786 408.8 L806 419.3 M790.8 411 a2.4 1.4 0 1 0 0.1 0" fill="#fff" stroke="#b0b0b0" stroke-width="0.7" stroke-linejoin="round"/><path d="M792 405.5 V400 L800 396 L808 400.2 V413.8" fill="none" stroke="#b0b0b0" stroke-width="0.7" stroke-linejoin="round"/></g>
<path d="M800 430.5 a1.1 1.1 0 1 0 0.1 0 M806.2 427 a1.1 1.1 0 1 0 0.1 0 M812.4 423.6 a1.1 1.1 0 1 0 0.1 0" fill="none" stroke="#b0b0b0" stroke-width="0.7" stroke-linejoin="round"/>
<path d="M796.2 333.3 V404 M797.9 334 V403.5 M824.1 342.3 V400 M825.6 343 V399.5" fill="none" stroke="#b0b0b0" stroke-width="0.8" stroke-linejoin="round"/>
<path d="M797 333.3 Q783 365 777.9 412.5 M797 333.3 Q812 360 817 383.5 L798 396.9 M824.8 342.3 Q812 370 809 401 M824.8 342.3 Q836 360 840.3 382.4 L826 390" fill="none" stroke="#b0b0b0" stroke-width="0.7" stroke-linejoin="round"/>
<path d="M798 391 L816 381 M826 386 L839 379" fill="none" stroke="#b0b0b0" stroke-width="0.7" stroke-linejoin="round"/>
<path d="M740 444 H767" fill="none" stroke="#c8c8c8" stroke-width="1.3"/>
<path d="M767 441.6 L772.3 444 L767 446.4 Z" fill="#b8b8b8"/>
</svg>
</body></html>
